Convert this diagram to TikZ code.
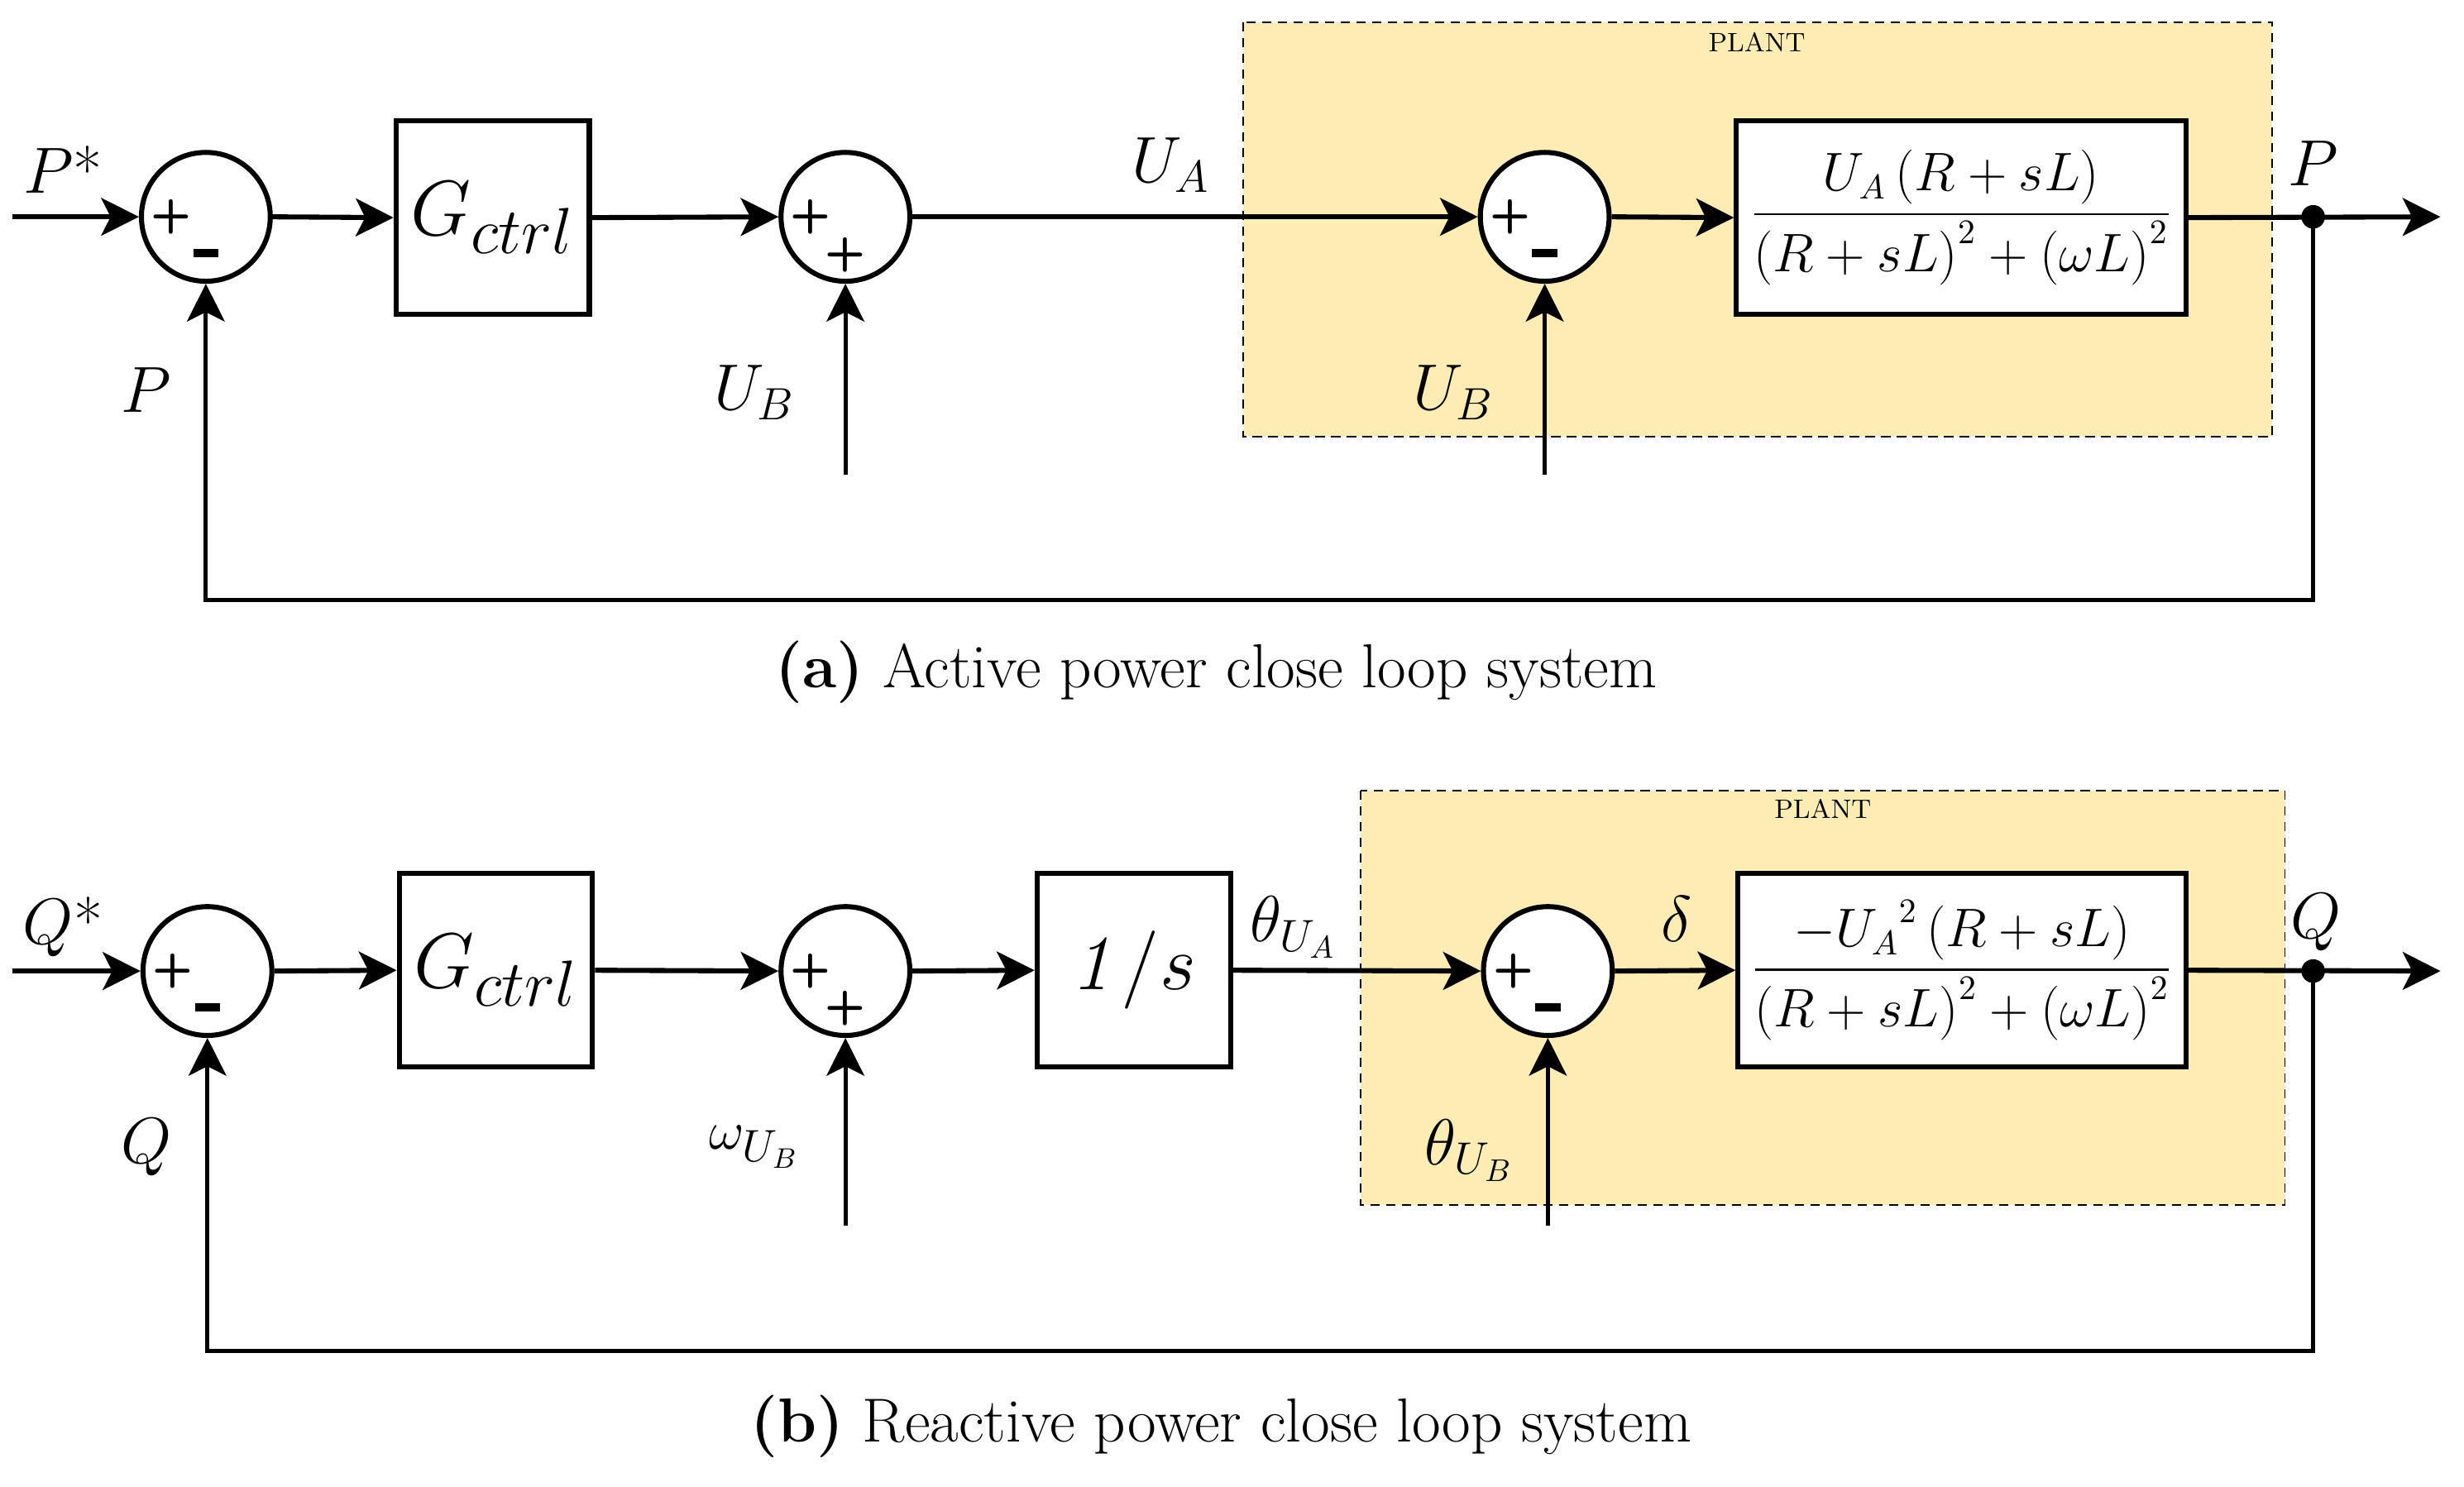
\documentclass[tikz,border=0pt]{standalone}
\usepackage{amsmath}
\usetikzlibrary{arrows.meta,calc}
\definecolor{plantfill}{RGB}{253,236,180}
\begin{document}
\begin{tikzpicture}[x=0.5pt,y=-0.5pt,
  sumnode/.style={circle,draw,line width=1.6pt,minimum size=41pt,inner sep=0pt,fill=white},
  blk/.style={draw,line width=1.6pt,minimum width=61.5pt,minimum height=61.5pt,inner sep=0pt,fill=white},
  tfblk/.style={blk,minimum width=143pt},
  sig/.style={line width=1.6pt,-{Stealth[length=12pt,width=12pt,inset=3pt]}},
  sigthin/.style={line width=1.3pt,-{Stealth[length=12pt,width=12pt,inset=3pt]}},
  dotnode/.style={circle,fill,inner sep=0pt,minimum size=7.5pt},
  lab/.style={font=\fontsize{20}{24}\selectfont,inner sep=0pt},
  smlab/.style={font=\fontsize{19}{22}\selectfont,inner sep=0pt},
  sgn/.style={font=\sffamily\bfseries\fontsize{15}{15}\selectfont,inner sep=0pt},
  minus/.style={inner sep=0pt},
  plantbox/.style={fill=plantfill,draw,line width=0.5pt,dash pattern=on 3pt off 2pt},
  plantlab/.style={font=\fontsize{8.5}{10}\selectfont,inner sep=0pt},
  captext/.style={font=\fontsize{19.8}{24}\selectfont,inner sep=0pt}
]
\useasboundingbox (0,0) rectangle (1568,946);

% ---------------- (a) ----------------
\path[plantbox] (791,14) rectangle (1446,278);
\node[plantlab] (pl1) at (1118,27) {PLANT};

\coordinate (in1) at (8,138);
\node[sumnode] (s1) at (131,138) {};
\node[blk] (g1) at (313.5,138.5) {\fontsize{28}{32}\selectfont$G_{ctrl}$};
\node[sumnode] (s2) at (538,138) {};
\node[sumnode] (s3) at (983,138) {};
\node[tfblk] (tf1) at (1248,138.5) {\fontsize{16}{20}\selectfont$\dfrac{U_A\left(R+sL\right)}{\left(R+sL\right)^2+\left(\omega L\right)^2}$};
\node[dotnode] (d1) at (1472,138) {};
\coordinate (out1) at (1553,138);
\coordinate (ub1) at (538,302);
\coordinate (ub2) at (983,302);
\coordinate (fb1) at (1472,382);

\node[sgn] (p11) at ($(s1.center)+(-22,0)$) {+};
\node[minus] (m11) at ($(s1.center)+(0,23)$) {\rule{8pt}{2.6pt}};
\node[sgn] (p21) at ($(s2.center)+(-22,0)$) {+};
\node[sgn] (p22) at ($(s2.center)+(0,24)$) {+};
\node[sgn] (p31) at ($(s3.center)+(-22,0)$) {+};
\node[minus] (m31) at ($(s3.center)+(0,23)$) {\rule{8pt}{2.6pt}};

\draw[sig] (in1) -- (s1.west);
\draw[sig] (s1.east) -- (g1.west);
\draw[sig] (g1.east) -- (s2.west);
\draw[sig] (s2.east) -- (s3.west);
\draw[sig] (s3.east) -- (tf1.west);
\draw[sig] (tf1.east) -- (out1);
\draw[sigthin] (ub1) -- (s2.south);
\draw[sigthin] (ub2) -- (s3.south);
\draw[sigthin] (d1.center) -- (fb1) -| (s1.south);

\node[lab] (lPs) at (40,108) {$P$*};
\node[lab] (lP1) at (93,248) {$P$};
\node[lab] (lUB1) at (480,250) {$U_B$};
\node[lab] (lUA) at (745,105) {$U_A$};
\node[lab] (lUB2) at (925,250) {$U_B$};
\node[lab] (lP2) at (1472,104) {$P$};

\node[captext] (capa) at (774,428) {\textbf{(a)} Active power close loop system};

% ---------------- (b) ----------------
\path[plantbox] (866,503) rectangle (1454,767);
\node[plantlab] (pl2) at (1160,515) {PLANT};

\coordinate (in2) at (8,618);
\node[sumnode] (s4) at (132,618) {};
\node[blk] (g2) at (315.5,617.5) {\fontsize{28}{32}\selectfont$G_{ctrl}$};
\node[sumnode] (s5) at (538,618) {};
\node[blk] (inv) at (721.5,617.5) {\fontsize{28}{32}\selectfont$\mathit{1}/s$};
\node[sumnode] (s6) at (985,618) {};
\node[tfblk,minimum width=142.5pt] (tf2) at (1248.5,617.5) {\fontsize{16}{20}\selectfont$\dfrac{-{U_A}^2\left(R+sL\right)}{\left(R+sL\right)^2+\left(\omega L\right)^2}$};
\node[dotnode] (d2) at (1472,618) {};
\coordinate (out2) at (1553,618);
\coordinate (wb) at (538,780);
\coordinate (tb) at (985,780);
\coordinate (fb2) at (1472,860);

\node[sgn] (p41) at ($(s4.center)+(-22,0)$) {+};
\node[minus] (m41) at ($(s4.center)+(0,23)$) {\rule{8pt}{2.6pt}};
\node[sgn] (p51) at ($(s5.center)+(-22,0)$) {+};
\node[sgn] (p52) at ($(s5.center)+(0,24)$) {+};
\node[sgn] (p61) at ($(s6.center)+(-22,0)$) {+};
\node[minus] (m61) at ($(s6.center)+(0,23)$) {\rule{8pt}{2.6pt}};

\draw[sig] (in2) -- (s4.west);
\draw[sig] (s4.east) -- (g2.west);
\draw[sig] (g2.east) -- (s5.west);
\draw[sig] (s5.east) -- (inv.west);
\draw[sig] (inv.east) -- (s6.west);
\draw[sig] (s6.east) -- (tf2.west);
\draw[sig] (tf2.east) -- (out2);
\draw[sigthin] (wb) -- (s5.south);
\draw[sigthin] (tb) -- (s6.south);
\draw[sigthin] (d2.center) -- (fb2) -| (s4.south);

\node[lab] (lQs) at (40,590) {$Q$*};
\node[lab] (lQ1) at (93,730) {$Q$};
\node[smlab] (lwUB) at (480,730) {$\omega_{U_B}$};
\node[lab] (lthUA) at (823,590) {$\theta_{U_A}$};
\node[lab] (ldelta) at (1067,585) {$\delta$};
\node[lab] (lthUB) at (935,732) {$\theta_{U_B}$};
\node[lab] (lQ2) at (1474,587) {$Q$};

\node[captext] (capb) at (777,908) {\textbf{(b)} Reactive power close loop system};
\end{tikzpicture}
\end{document}
